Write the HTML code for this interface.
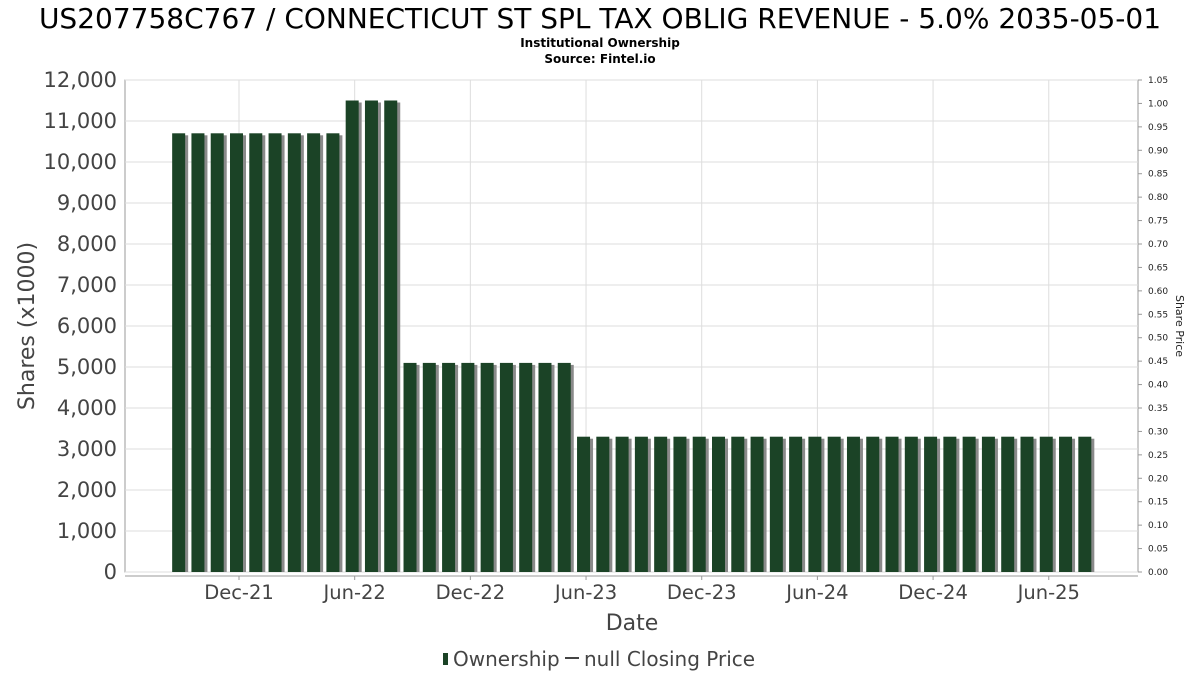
<!DOCTYPE html>
<html><head><meta charset="utf-8"><style>
body{margin:0;background:#fff;font-family:"DejaVu Sans","Liberation Sans",sans-serif;}
</style></head><body>
<svg width="1200" height="675" xmlns="http://www.w3.org/2000/svg">
<text x="600" y="28" text-anchor="middle" font-size="28" fill="#000">US207758C767 / CONNECTICUT ST SPL TAX OBLIG REVENUE - 5.0% 2035-05-01</text>
<text x="600" y="47" text-anchor="middle" font-size="12" font-weight="bold">Institutional Ownership</text>
<text x="600" y="63" text-anchor="middle" font-size="12" font-weight="bold">Source: Fintel.io</text>
<g id="grid"></g><g id="bars"></g><g id="axes"></g>
<text x="632" y="630" text-anchor="middle" font-size="22" fill="#444">Date</text>
<text transform="translate(34,326) rotate(-90)" text-anchor="middle" font-size="22" fill="#444">Shares (x1000)</text>
<text transform="translate(1176,326) rotate(90)" text-anchor="middle" font-size="11" fill="#222">Share Price</text>
<g>
<rect x="443" y="653" width="5" height="12" fill="#1b4326"/>
<text x="453" y="666" font-size="20" fill="#444">Ownership</text>
<line x1="565" y1="658" x2="579" y2="658" stroke="#444" stroke-width="2"/>
<text x="584" y="666" font-size="20" fill="#444">null Closing Price</text>
</g>
</svg>
<script>
const ns="http://www.w3.org/2000/svg";
const values=[10700,10700,10700,10700,10700,10700,10700,10700,10700,11500,11500,11500,5100,5100,5100,5100,5100,5100,5100,5100,5100,3300,3300,3300,3300,3300,3300,3300,3300,3300,3300,3300,3300,3300,3300,3300,3300,3300,3300,3300,3300,3300,3300,3300,3300,3300,3300,3300];
const yTicks=[0,1000,2000,3000,4000,5000,6000,7000,8000,9000,10000,11000,12000];
const priceTicks=[0,0.05,0.1,0.15,0.2,0.25,0.3,0.35,0.4,0.45,0.5,0.55,0.6,0.65,0.7,0.75,0.8,0.85,0.9,0.95,1.0,1.05];
const xLabels=["Dec-21","Jun-22","Dec-22","Jun-23","Dec-23","Jun-24","Dec-24","Jun-25"];
const xLabelMonths=[3,9,15,21,27,33,39,45];
const L=125,R=1138,T=80,B=572;
const y=v=>B-(v/12000)*(B-T);
const yp=v=>B-(v/1.05)*(B-T);
const x=i=>239+(i-3)*19.28;
function mk(tag,attrs,parent){const e=document.createElementNS(ns,tag);for(const k in attrs)e.setAttribute(k,attrs[k]);parent.appendChild(e);return e;}
const grid=document.getElementById('grid'),bars=document.getElementById('bars'),axes=document.getElementById('axes');
mk('rect',{x:L,y:T,width:R-L,height:B-T,fill:'#fff',stroke:'#999'},grid);
yTicks.forEach(v=>{
 const l=mk('line',{x1:L,x2:R,y1:y(v),y2:y(v),stroke:'#ddd'},grid);
 
 
 const t=mk('text',{x:L-8,y:y(v)+7,'text-anchor':'end','font-size':21,fill:'#444'},axes);
 t.textContent=v.toLocaleString('en-US');
 
 
});
xLabelMonths.forEach((m,k)=>{
 const l=mk('line',{x1:x(m),x2:x(m),y1:T,y2:B,stroke:'#ddd'},grid);
 
 
 mk('line',{x1:x(m),x2:x(m),y1:576,y2:580,stroke:'#999'},axes);
 const t=mk('text',{x:x(m),y:599,'text-anchor':'middle','font-size':19.5,fill:'#444'},axes);
 t.textContent=xLabels[k];
 
 
});
mk('line',{x1:L,x2:R,y1:576,y2:576,stroke:'#999'},axes);
priceTicks.forEach(v=>{
 mk('line',{x1:R,x2:R+4,y1:yp(v),y2:yp(v),stroke:'#999'},axes);
 const t=mk('text',{x:R+10,y:yp(v)+3,'font-size':9,fill:'#222'},axes);
 t.textContent=v.toFixed(2);
 
 
});
values.forEach((v,i)=>{
 mk('rect',{x:x(i)-9+3,y:y(v)+2,width:13,height:B-y(v)-2,fill:'#8a8a8a'},bars);
 const r=mk('rect',{x:x(i)-9,y:y(v),width:13,height:B-y(v),fill:'#1b4326'},bars);
 
 
});
</script>
</body></html>
